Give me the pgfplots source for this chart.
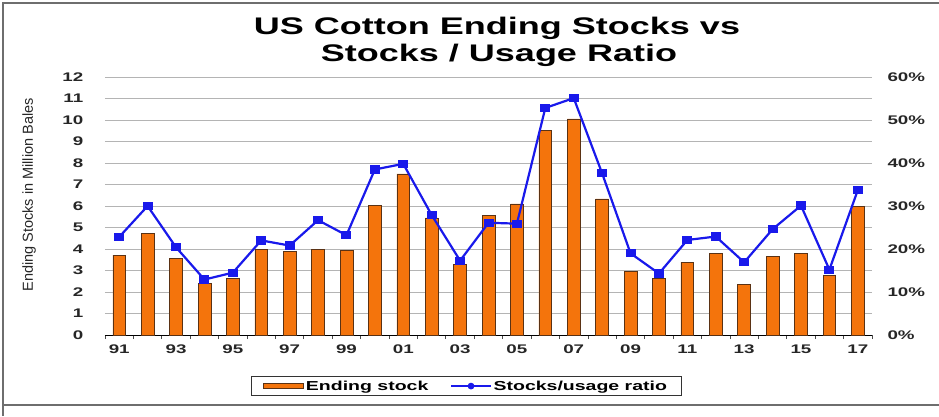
\documentclass[border=0pt]{standalone}
\usepackage{fontspec}
\setmainfont{Liberation Sans}
\newfontfamily\wide[FakeStretch=1.5]{Liberation Sans}
\newfontfamily\titlef[FakeStretch=1.5]{Liberation Sans}
\usepackage{pgfplots}
\usepackage{pgfplotstable}
\pgfplotsset{compat=1.18}
\definecolor{barorange}{RGB}{244,116,12}
\definecolor{baredge}{RGB}{90,50,20}
\definecolor{lineblue}{RGB}{25,25,235}
\definecolor{gridgray}{RGB}{180,180,180}
\definecolor{framegray}{RGB}{110,110,110}

\pgfplotstableread{
x stock ratio
0  3.72 22.8
1  4.71 30.0
2  3.56 20.4
3  2.40 12.9
4  2.63 14.5
5  3.98 22.0
6  3.90 20.8
7  3.98 26.7
8  3.93 23.2
9  6.02 38.5
10 7.49 39.8
11 5.45 27.9
12 3.30 17.3
13 5.55 26.1
14 6.10 25.9
15 9.50 52.8
16 10.05 55.1
17 6.33 37.6
18 2.97 19.0
19 2.63 14.3
20 3.39 22.1
21 3.81 22.9
22 2.35 16.9
23 3.67 24.6
24 3.81 30.1
25 2.79 15.2
26 5.99 33.7
}\data

\begin{document}
\begin{tikzpicture}
\begin{axis}[
  at={(0pt,0pt)}, anchor=south west,
  scale only axis, width=767pt, height=258pt,
  xmin=-0.5, xmax=26.5, ymin=0, ymax=12,
  axis x line*=bottom, axis y line*=left,
  axis line style={-},
  x axis line style={black, line width=1pt},
  y axis line style={draw=none},
  xtick={0,2,...,26},
  xticklabels={91,93,95,97,99,01,03,05,07,09,11,13,15,17},
  minor xtick={-0.5,0.5,...,26.5},
  major x tick style={draw=none},
  minor x tick style={black!70, line width=0.8pt},
  minor tick length=4pt,
  tick align=outside,
  ytick={0,...,12},
  ymajorgrids, grid style={gridgray, line width=1pt},
  y tick style={draw=none},
  tick label style={font=\wide\bfseries\fontsize{12.5}{14}\selectfont, text=black!85},
  /pgf/number format/assume math mode=true,
  yticklabel style={xshift=-14pt},
  xticklabel style={yshift=-2pt},
  ylabel={Ending Stocks in Million Bales},
  every axis y label/.style={at={(axis description cs:-0.099,0.543)}, rotate=90, anchor=center,
    font=\fontsize{14.5}{16}\selectfont, text=black!85},
]
\addplot[ybar, bar width=0.45, fill=barorange, draw=baredge, line width=0.6pt] table[x=x,y=stock]{\data};
\end{axis}
\begin{axis}[
  at={(0pt,0pt)}, anchor=south west,
  scale only axis, width=767pt, height=258pt,
  xmin=-0.5, xmax=26.5, ymin=0, ymax=60,
  axis x line=none, axis y line*=right,
  axis line style={-},
  y axis line style={draw=none},
  ytick={0,10,...,60},
  yticklabel={\pgfmathprintnumber{\tick}\%},
  y tick style={draw=none},
  tick label style={font=\wide\bfseries\fontsize{12.5}{14}\selectfont, text=black!85},
  /pgf/number format/assume math mode=true,
  yticklabel style={xshift=12pt},
  legend style={at={(axis description cs:0.471,-0.198)}, anchor=center,
    legend columns=2, draw=black!80, line width=0.8pt,
    font=\wide\bfseries\fontsize{13}{15}\selectfont,
    inner xsep=12pt, inner ysep=2pt,
    /tikz/every even column/.append style={column sep=20pt}},
]
\addlegendimage{legend image code/.code={\draw[fill=barorange,draw=baredge,line width=0.5pt] (0pt,-2.5pt) rectangle (40pt,2.5pt);}}
\addlegendentry{Ending stock}
\addplot[lineblue, line width=2.2pt, mark=square*, mark size=3pt,
  mark options={xscale=1.3, fill=lineblue},
  legend image code/.code={\draw[lineblue,line width=1.2pt] (0pt,0pt) -- (40pt,0pt); \fill[lineblue] (20pt,0pt) circle (2.2pt);}]
  table[x=x,y=ratio]{\data};
\addlegendentry{Stocks/usage ratio}
\end{axis}
\node[anchor=base, font=\titlef\bfseries\fontsize{24}{28}\selectfont] at (392pt,300pt) {US Cotton Ending Stocks vs};
\node[anchor=base, font=\titlef\bfseries\fontsize{24}{28}\selectfont] at (394pt,273pt) {Stocks / Usage Ratio};
\draw[framegray, line width=1.5pt] (-102pt,-81pt) -- (-102pt,332pt) -- (834pt,332pt);
\draw[framegray, line width=1.5pt] (-102pt,-70pt) -- (834pt,-70pt);
\pgfresetboundingbox
\useasboundingbox (-105pt,-81pt) rectangle (834pt,335pt);
\end{tikzpicture}
\end{document}
